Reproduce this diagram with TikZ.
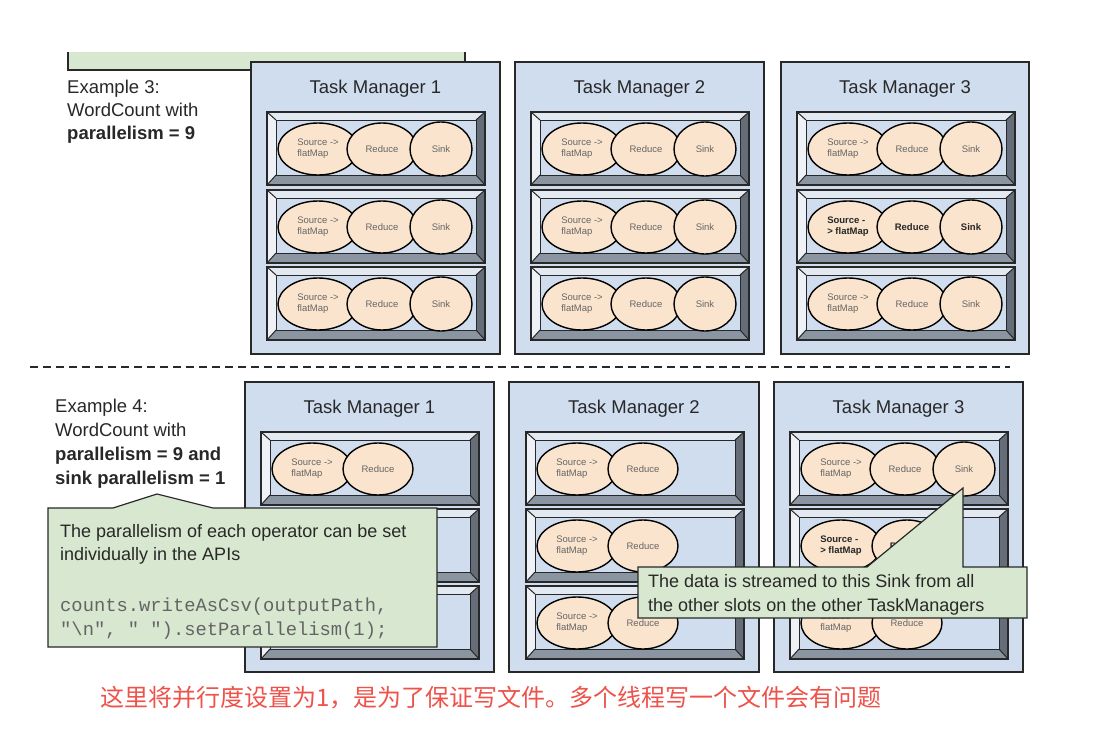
\documentclass[tikz,border=0pt]{standalone}
\usepackage{fontspec}
\setmainfont{Liberation Sans}
\setmonofont{Liberation Mono}
\newfontfamily\cjk{Noto Sans CJK SC}
\usetikzlibrary{shapes.geometric}
\definecolor{tmblue}{RGB}{207,221,239}
\definecolor{opfill}{RGB}{250,228,205}
\definecolor{note}{RGB}{216,231,207}
\definecolor{ink}{RGB}{40,40,40}
\definecolor{bvtop}{RGB}{226,233,241}
\definecolor{bvleft}{RGB}{238,242,247}
\definecolor{bvright}{RGB}{100,109,120}
\definecolor{bvbot}{RGB}{139,149,161}
\definecolor{cnred}{RGB}{238,82,74}
\definecolor{codegray}{RGB}{100,100,100}
\tikzset{
  tm/.style={draw=ink, fill=tmblue, line width=1.3pt},
  tmtitle/.style={anchor=base, inner sep=0, font=\fontsize{18.5}{22}\selectfont, text=ink},
  op/.style={ellipse, draw=black, fill=opfill, line width=1.4pt, inner sep=0,
    minimum height=52pt, font=\fontsize{9.5}{11}\selectfont, text=black!60, align=left},
  srcop/.style={op, minimum width=80pt},
  redop/.style={op, minimum width=70pt},
  sinkop/.style={op, minimum width=62pt, minimum height=54pt},
  boldop/.style={font=\fontsize{9.5}{11}\selectfont\bfseries, text=black!85},
  lbl/.style={anchor=base west, inner sep=0, font=\fontsize{18.5}{22}\selectfont, text=ink},
  notebox/.style={draw=ink, fill=note, line width=1.2pt, line join=miter},
  notetext/.style={anchor=base west, inner sep=0, font=\fontsize{18}{22}\selectfont, text=ink},
  codetext/.style={anchor=base west, inner sep=0, font=\fontsize{18.8}{22}\ttfamily, text=codegray},
  bvline/.style={draw=ink, line width=1pt},
}
\newcommand\slotbevel[2]{%
  \fill[bvtop] (#1,#2) -- ({#1+218},#2) -- ({#1+209},{#2+8}) -- ({#1+9},{#2+8}) -- cycle;
  \fill[bvleft] (#1,#2) -- ({#1+9},{#2+8}) -- ({#1+9},{#2+63}) -- (#1,{#2+73}) -- cycle;
  \fill[bvright] ({#1+218},#2) -- ({#1+218},{#2+73}) -- ({#1+209},{#2+63}) -- ({#1+209},{#2+8}) -- cycle;
  \fill[bvbot] (#1,{#2+73}) -- ({#1+218},{#2+73}) -- ({#1+209},{#2+63}) -- ({#1+9},{#2+63}) -- cycle;
  \fill[tmblue] ({#1+9},{#2+8}) rectangle ({#1+209},{#2+63});
  \draw[bvline] (#1,#2) -- ({#1+9},{#2+8}) (#1,{#2+73}) -- ({#1+9},{#2+63})
    ({#1+218},#2) -- ({#1+209},{#2+8}) ({#1+218},{#2+73}) -- ({#1+209},{#2+63});
  \draw[bvline] ({#1+9},{#2+8}) rectangle ({#1+209},{#2+63});
  \draw[draw=ink, line width=1.5pt] (#1,#2) rectangle ({#1+218},{#2+73});
}
\newcommand\threeops[3]{%
  \slotbevel{#2}{#3}
  \node[srcop] (#1s) at ({#2+51},{#3+37}) {Source ->\\flatMap};
  \node[redop] (#1r) at ({#2+115},{#3+37}) {Reduce};
  \node[sinkop] (#1k) at ({#2+174},{#3+37}) {Sink};
}
\newcommand\boldthreeops[3]{%
  \slotbevel{#2}{#3}
  \node[srcop,boldop] (#1s) at ({#2+51},{#3+37}) {Source -\\> flatMap};
  \node[redop,boldop] (#1r) at ({#2+115},{#3+37}) {Reduce};
  \node[sinkop,boldop] (#1k) at ({#2+174},{#3+37}) {Sink};
}
\newcommand\twoops[3]{%
  \slotbevel{#2}{#3}
  \node[srcop] (#1s) at ({#2+51},{#3+37}) {Source ->\\flatMap};
  \node[redop] (#1r) at ({#2+117},{#3+37}) {Reduce};
}
\newcommand\boldtwoops[3]{%
  \slotbevel{#2}{#3}
  \node[srcop,boldop] (#1s) at ({#2+51},{#3+37}) {Source -\\> flatMap};
  \node[redop,boldop] (#1r) at ({#2+117},{#3+37}) {Reduce};
}
\begin{document}
\begin{tikzpicture}[x=1pt,y=-1pt]
\useasboundingbox (0,0) rectangle (1106,736);
\fill[white] (0,0) rectangle (1106,736);

% partial green box at top
\fill[note] (68,52) rectangle (465,70);
\draw[draw=ink, line width=1.2pt] (68,52) -- (68,70) -- (465,70) -- (465,52);

% Example 3 labels
\node[lbl] (ex3a) at (67,93) {Example 3:};
\node[lbl] (ex3b) at (67,116) {WordCount with};
\node[lbl] (ex3c) at (67,139) {\bfseries parallelism = 9};

% Example 3 task managers
\draw[tm] (251,62) rectangle (500,354);
\node[tmtitle] (t31) at (375.5,93) {Task Manager 1};
\threeops{a11}{267}{112}
\threeops{a12}{267}{190}
\threeops{a13}{267}{267}

\draw[tm] (515,62) rectangle (764,354);
\node[tmtitle] (t32) at (639.5,93) {Task Manager 2};
\threeops{a21}{531}{112}
\threeops{a22}{531}{190}
\threeops{a23}{531}{267}

\draw[tm] (781,62) rectangle (1029,354);
\node[tmtitle] (t33) at (905,93) {Task Manager 3};
\threeops{a31}{797}{112}
\boldthreeops{a32}{797}{190}
\threeops{a33}{797}{267}

% separator
\draw[draw=ink, line width=2.5pt, dash pattern=on 8pt off 5pt] (30,367) -- (1010,367);

% Example 4 labels
\node[lbl] (ex4a) at (55,412) {Example 4:};
\node[lbl] (ex4b) at (55,436) {WordCount with};
\node[lbl] (ex4c) at (55,460) {\bfseries parallelism = 9 and};
\node[lbl] (ex4d) at (55,484) {\bfseries sink parallelism = 1};

% Example 4 task managers
\draw[tm] (245,382) rectangle (494,672);
\node[tmtitle] (t41) at (369.5,413) {Task Manager 1};
\twoops{b11}{261}{432}
\slotbevel{261}{509}
\slotbevel{261}{586}

\draw[tm] (509,382) rectangle (759,672);
\node[tmtitle] (t42) at (634,413) {Task Manager 2};
\twoops{b21}{526}{432}
\twoops{b22}{526}{509}
\twoops{b23}{526}{586}

\draw[tm] (774,382) rectangle (1023,672);
\node[tmtitle] (t43) at (898.5,413) {Task Manager 3};
\threeops{b31}{790}{432}
\boldtwoops{b32}{790}{509}
\twoops{b33}{790}{586}

% callout 1
\draw[notebox] (48,508) -- (113,508) -- (157,494) -- (213,508) -- (437,508)
  -- (437,647) -- (48,647) -- cycle;
\node[notetext] (n1a) at (60,537) {The parallelism of each operator can be set};
\node[notetext] (n1b) at (60,560) {individually in the APIs};
\node[codetext] (n1c) at (60,611) {counts.writeAsCsv(outputPath,};
\node[codetext] (n1d) at (60,635) {"\textbackslash{}n", " ").setParallelism(1);};

% callout 2
\coordinate (tip) at (963,488);
\draw[notebox] (638,567) -- (867,567) -- (tip) -- (963,567) -- (1027,567)
  -- (1027,618) -- (638,618) -- cycle;
\node[notetext] (n2a) at (648,587) {The data is streamed to this Sink from all};
\node[notetext] (n2b) at (648,611) {the other slots on the other TaskManagers};

% chinese note
\node[anchor=base west, inner sep=0, font=\cjk\fontsize{24}{26}\selectfont, text=cnred] (cn)
  at (100,706) {这里将并行度设置为1，是为了保证写文件。多个线程写一个文件会有问题};
\end{tikzpicture}
\end{document}
